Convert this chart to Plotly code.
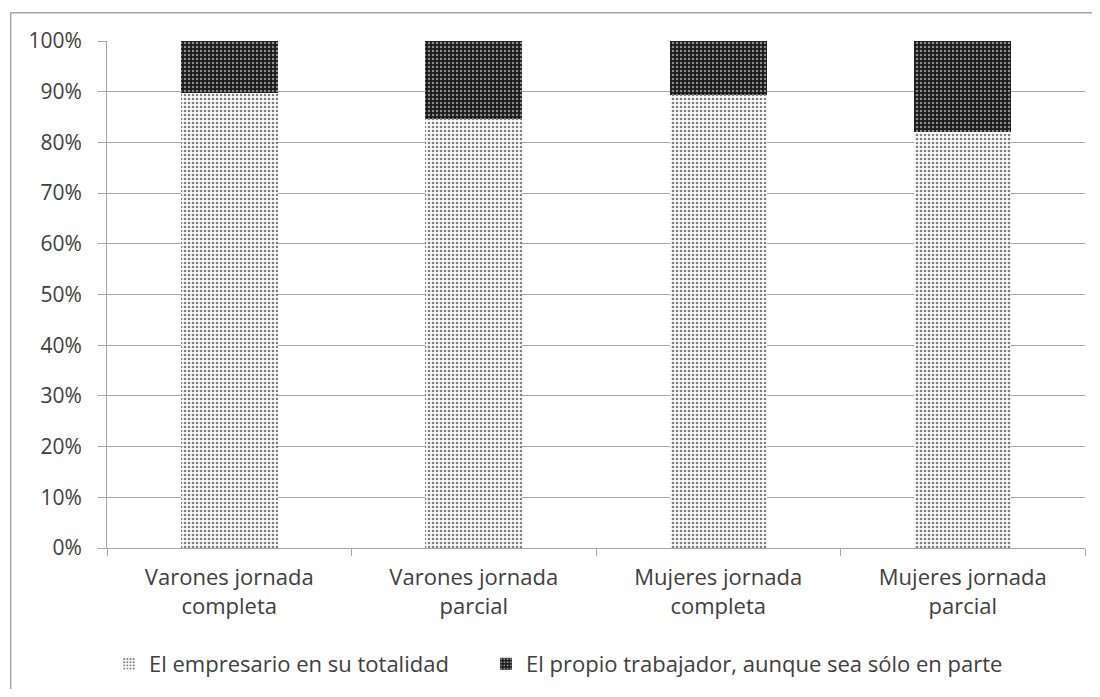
import plotly.graph_objects as go

categories = ["Varones jornada<br>completa", "Varones jornada<br>parcial",
              "Mujeres jornada<br>completa", "Mujeres jornada<br>parcial"]
empresario = [89.8, 84.7, 89.4, 82.0]
trabajador = [10.2, 15.3, 10.6, 18.0]
series_names = ["El empresario en su totalidad",
                "El propio trabajador, aunque sea sólo en parte"]
tick_vals = [0, 10, 20, 30, 40, 50, 60, 70, 80, 90, 100]
tick_text = [f"{v}%" for v in tick_vals]

font_color = "#404040"
grid_color = "#a6a6a6"
FONT = "Open Sans, Calibri, sans-serif"

W, H = 1084, 681
L, T, PW, PH = 99, 33, 978, 507
LEG_Y = 1 - 656 / H

fig = go.Figure()
fig.add_trace(go.Bar(
    x=categories, y=empresario, name=series_names[0], legend="legend",
    marker=dict(color="white", line=dict(width=0),
                pattern=dict(shape=".", fgcolor="black", bgcolor="white",
                             size=4, solidity=0.35, fillmode="overlay")),
))
fig.add_trace(go.Bar(
    x=categories, y=trabajador, name=series_names[1], legend="legend2",
    marker=dict(color="#1a1a1a", line=dict(width=0),
                pattern=dict(shape=".", fgcolor="white", bgcolor="#1a1a1a",
                             size=4, solidity=0.3, fillmode="overlay")),
))

leg_common = dict(orientation="h", xanchor="left", yanchor="middle",
                  xref="container", yref="container", y=LEG_Y,
                  font=dict(family=FONT, size=22, color=font_color),
                  bgcolor="rgba(0,0,0,0)")

bx = (2.7 - L) / PW
by = (T + PH - 4.7) / PH
border = dict(color="#a6a6a6", width=1.5)

fig.update_layout(
    barmode="stack",
    bargap=0.604,
    width=W, height=H,
    margin=dict(l=L, r=W - L - PW, t=T, b=H - T - PH, autoexpand=False),
    paper_bgcolor="white",
    plot_bgcolor="white",
    font=dict(family=FONT, size=22, color=font_color),
    showlegend=True,
    legend=dict(x=101 / W, **leg_common),
    legend2=dict(x=478 / W, **leg_common),
    xaxis=dict(
        showgrid=False, showline=True, linecolor=grid_color, linewidth=1,
        ticks="outside", tickson="boundaries", ticklen=7, tickcolor=grid_color,
        ticklabelstandoff=10,
        tickfont=dict(family=FONT, size=22, color=font_color),
    ),
    yaxis=dict(
        range=[0, 100], tickvals=tick_vals, ticktext=tick_text,
        showgrid=True, gridcolor=grid_color, gridwidth=1,
        showline=True, linecolor=grid_color, linewidth=1,
        ticks="outside", ticklen=8, tickcolor=grid_color,
        ticklabelstandoff=12,
        tickfont=dict(family=FONT, size=21, color=font_color), zeroline=False,
    ),
    shapes=[
        dict(type="line", xref="paper", yref="paper",
             x0=bx, x1=(1200 - L) / PW, y0=by, y1=by, line=border, layer="below"),
        dict(type="line", xref="paper", yref="paper",
             x0=bx, x1=bx, y0=by, y1=(T + PH - 800) / PH, line=border, layer="below"),
    ],
)

fig.write_html("out.html")
